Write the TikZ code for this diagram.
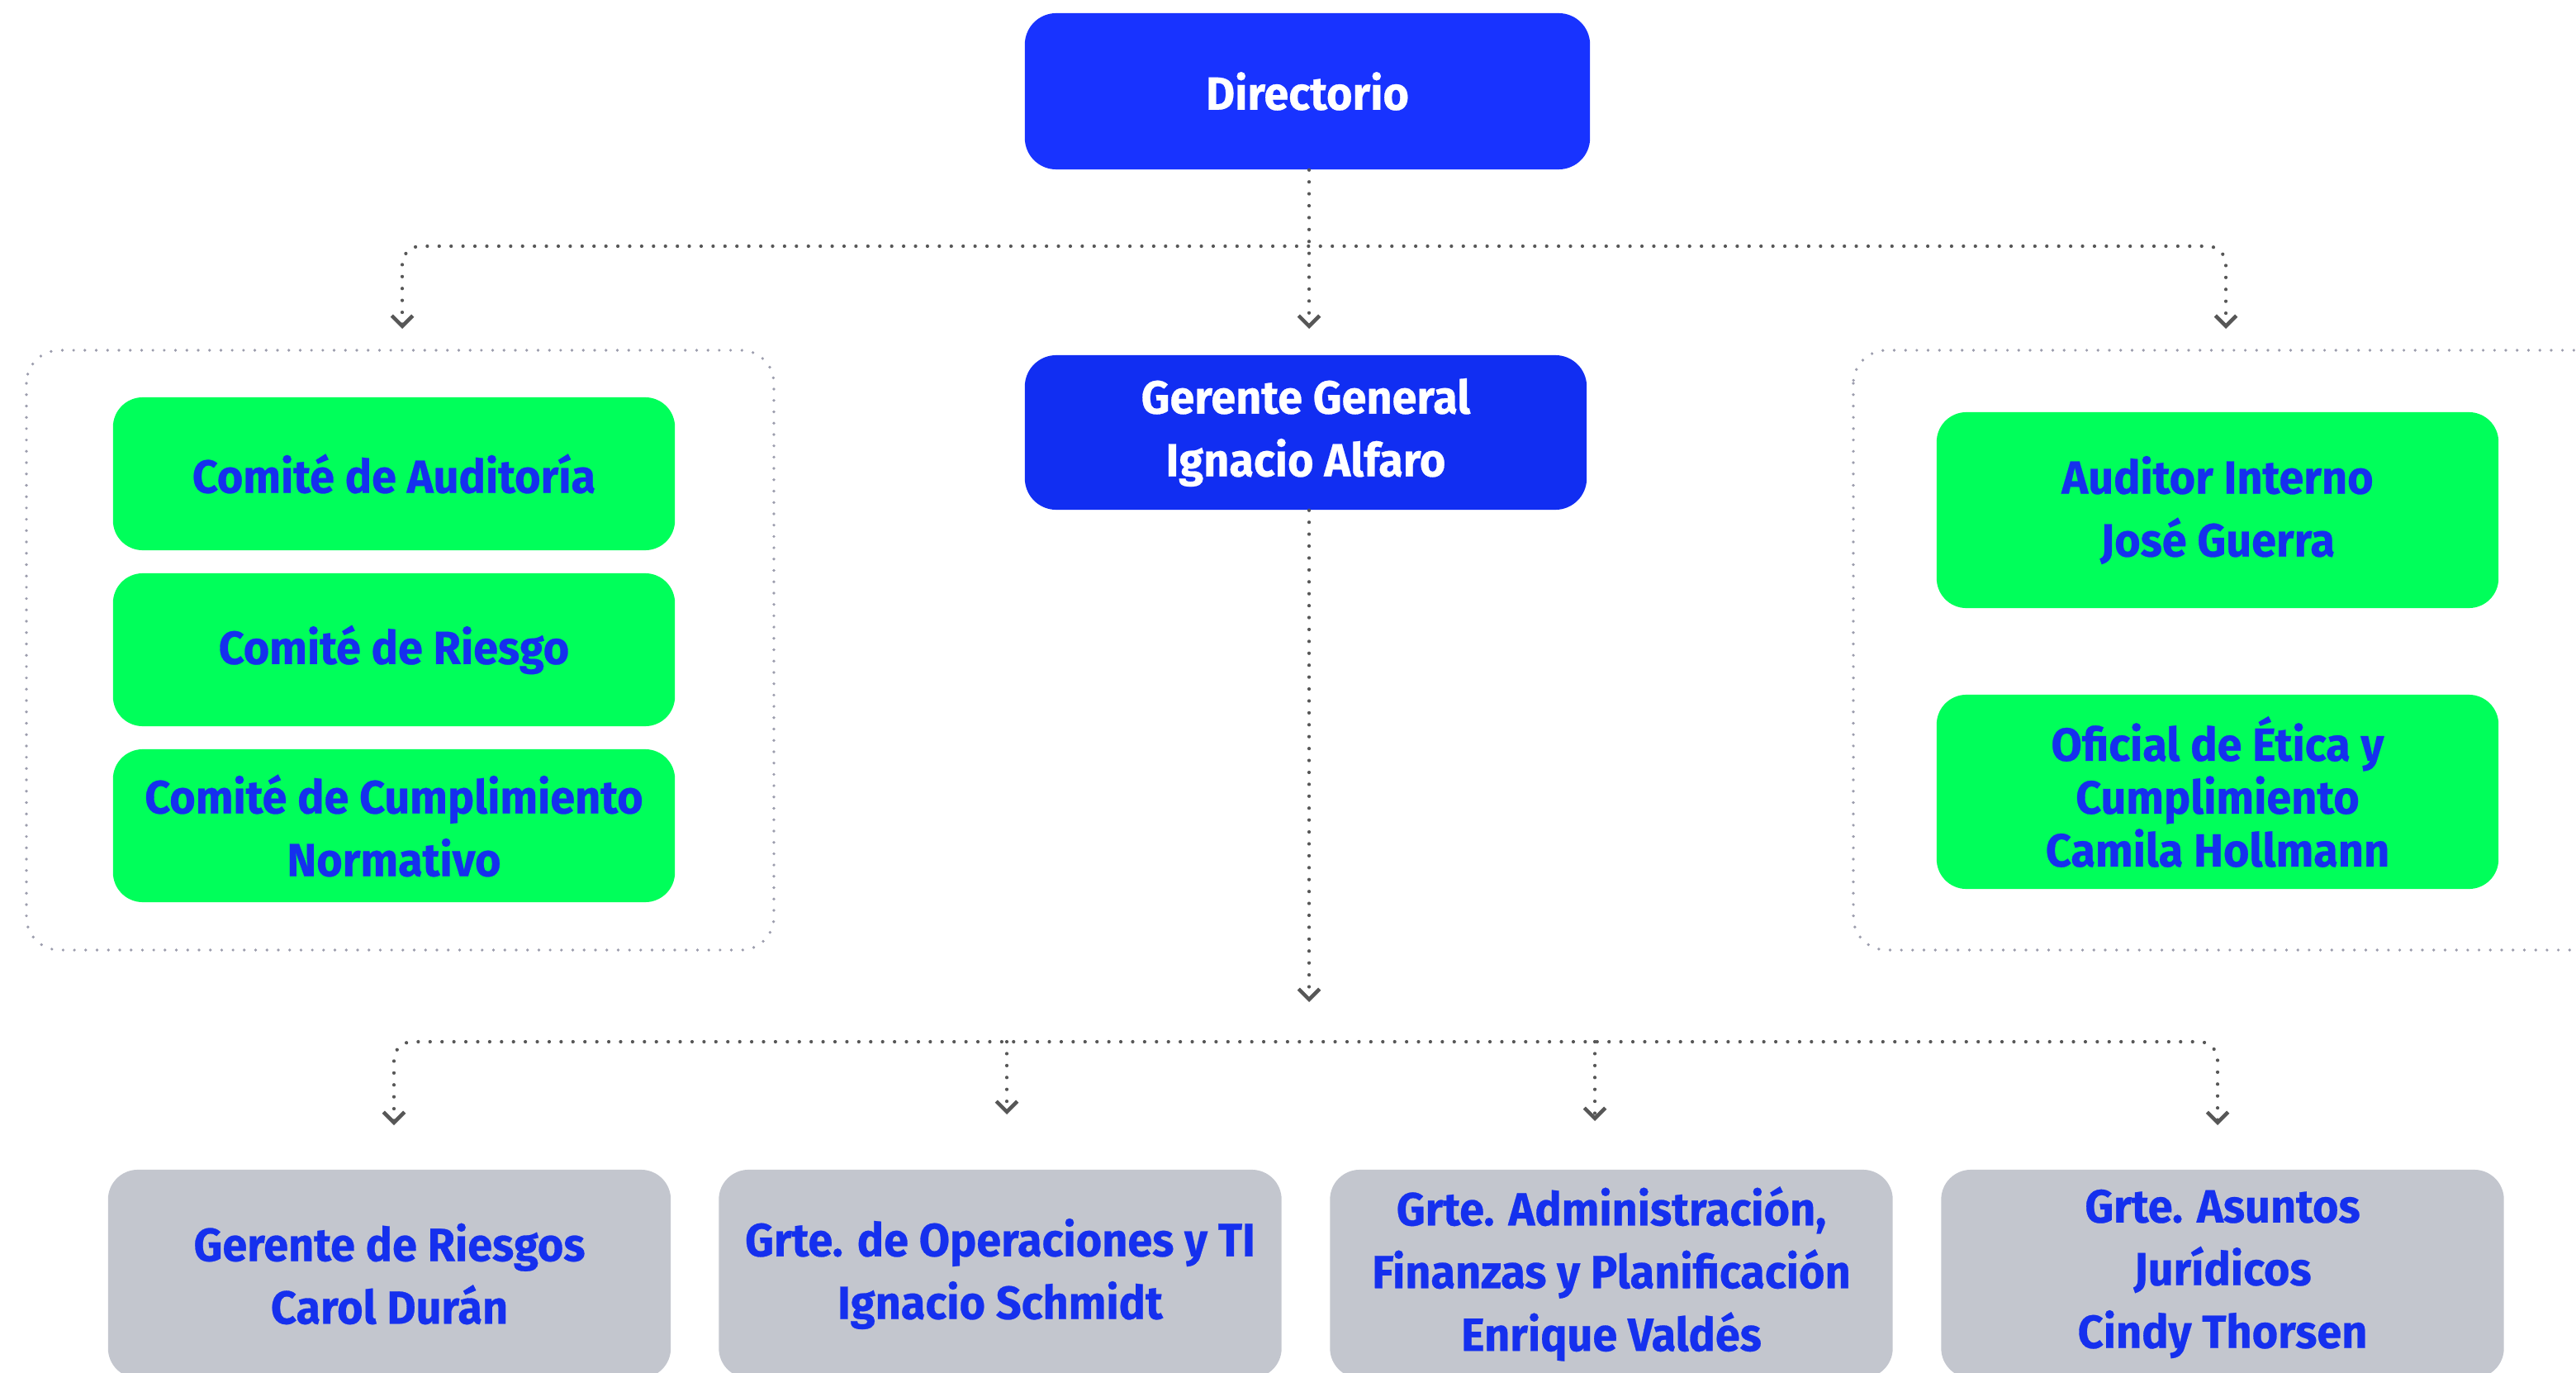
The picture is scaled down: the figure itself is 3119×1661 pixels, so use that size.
\documentclass[tikz,border=0pt]{standalone}
\usepackage{fontspec}
\setmainfont{Fira Sans}[FakeStretch=0.96, BoldFeatures={FakeBold=0.5}]
\usetikzlibrary{arrows.meta}
\definecolor{topblue}{HTML}{1833FF}
\definecolor{ggblue}{HTML}{112EF2}
\definecolor{boxgreen}{HTML}{00FF5A}
\definecolor{txtblue}{HTML}{1530EE}
\definecolor{boxgray}{HTML}{C3C6CE}
\definecolor{conngray}{HTML}{575757}
\definecolor{framegray}{HTML}{9C9DAD}
\tikzset{
  lbl/.style={align=center, font=\bfseries\fontsize{16}{21.6}\selectfont},
  bluebox/.style={lbl, fill=topblue, text=white, rounded corners=0.38cm, minimum width=6.84cm, minimum height=1.89cm, inner sep=0pt},
  greenbox/.style={lbl, fill=boxgreen, text=txtblue, rounded corners=0.36cm, minimum width=6.8cm, inner sep=0pt},
  graybox/.style={lbl, fill=boxgray, text=txtblue, rounded corners=0.36cm, minimum width=6.81cm, minimum height=2.52cm, inner sep=0pt},
  conn/.style={draw=conngray, line width=1.2pt, line cap=round, dash pattern=on 0pt off 4.1pt},
  tip/.style={-{Straight Barb[length=3.6pt, width=7.2pt, line width=1.3pt]}},
  tips/.style={{Straight Barb[length=3.6pt, width=7.2pt, line width=1.3pt]}-{Straight Barb[length=3.6pt, width=7.2pt, line width=1.3pt]}},
  frame/.style={draw=framegray, line width=1.05pt, line cap=round, dash pattern=on 0pt off 3.9pt, rounded corners=0.4cm}
}
\begin{document}
\begin{tikzpicture}[x=0.01cm, y=-0.01cm]
\useasboundingbox (0,0) rectangle (3119,1661);
\clip (0,0) rectangle (3119,1661);

% containers
\draw[frame] (32,424) rectangle (937,1150);
\draw[frame] (2244,424) rectangle (3200,1150);

% top nodes
\node[bluebox] (dir) at (1583,110.5) {Directorio};
\node[bluebox, fill=ggblue, minimum width=6.8cm, minimum height=1.87cm] (gg) at (1581,523.5) {Gerente General\\Ignacio Alfaro};

% left committee boxes
\node[greenbox, minimum height=1.85cm] (ca) at (477,573.5) {Comité de Auditoría};
\node[greenbox, minimum height=1.85cm] (cr) at (477,786.5) {Comité de Riesgo};
\node[greenbox, minimum height=1.85cm] (cc) at (477,999.5) {Comité de Cumplimiento\\Normativo};

% right boxes
\node[greenbox, minimum height=2.37cm] (ai) at (2685,617.5) {Auditor Interno\\José Guerra};
\node[greenbox, minimum height=2.35cm, font=\bfseries\fontsize{16}{18.2}\selectfont] (oe) at (2685,958.5) {Oficial de Ética y\\Cumplimiento\\Camila Hollmann};

% bottom boxes
\node[graybox] (g1) at (471.5,1542) {Gerente de Riesgos\\Carol Durán};
\node[graybox] (g2) at (1211,1542) {Grte. de Operaciones y TI\\Ignacio Schmidt};
\node[graybox] (g3) at (1951,1542) {Grte. Administración,\\Finanzas y Planificación\\Enrique Valdés};
\node[graybox] (g4) at (2691,1542) {Grte. Asuntos\\Jurídicos\\Cindy Thorsen};

% connector end coordinates
\coordinate (tTop) at (1585,398);
\coordinate (tL) at (487,398);
\coordinate (tR) at (2695,398);
\coordinate (hL) at (487,298);
\coordinate (hR) at (2695,298);
\coordinate (tMid) at (1585,1213);
\coordinate (bL) at (477,1261);
\coordinate (bR) at (2685,1261);
\coordinate (b2s) at (1219,1261);
\coordinate (b3s) at (1931,1261);
\coordinate (t1) at (477,1362);
\coordinate (t2) at (1219,1349);
\coordinate (t3) at (1931,1357);
\coordinate (t4) at (2685,1362);

% connectors
\draw[conn, tip] (dir.south -| tTop) -- (tTop);
\draw[conn, tips, rounded corners=0.22cm] (tL) -- (hL) -- (hR) -- (tR);
\draw[conn, tip] (gg.south -| tMid) -- (tMid);
\draw[conn, tips, rounded corners=0.22cm] (t1) -- (bL) -- (bR) -- (t4);
\draw[conn, tip] (b2s) -- (t2);
\draw[conn, tip] (b3s) -- (t3);
\end{tikzpicture}
\end{document}
